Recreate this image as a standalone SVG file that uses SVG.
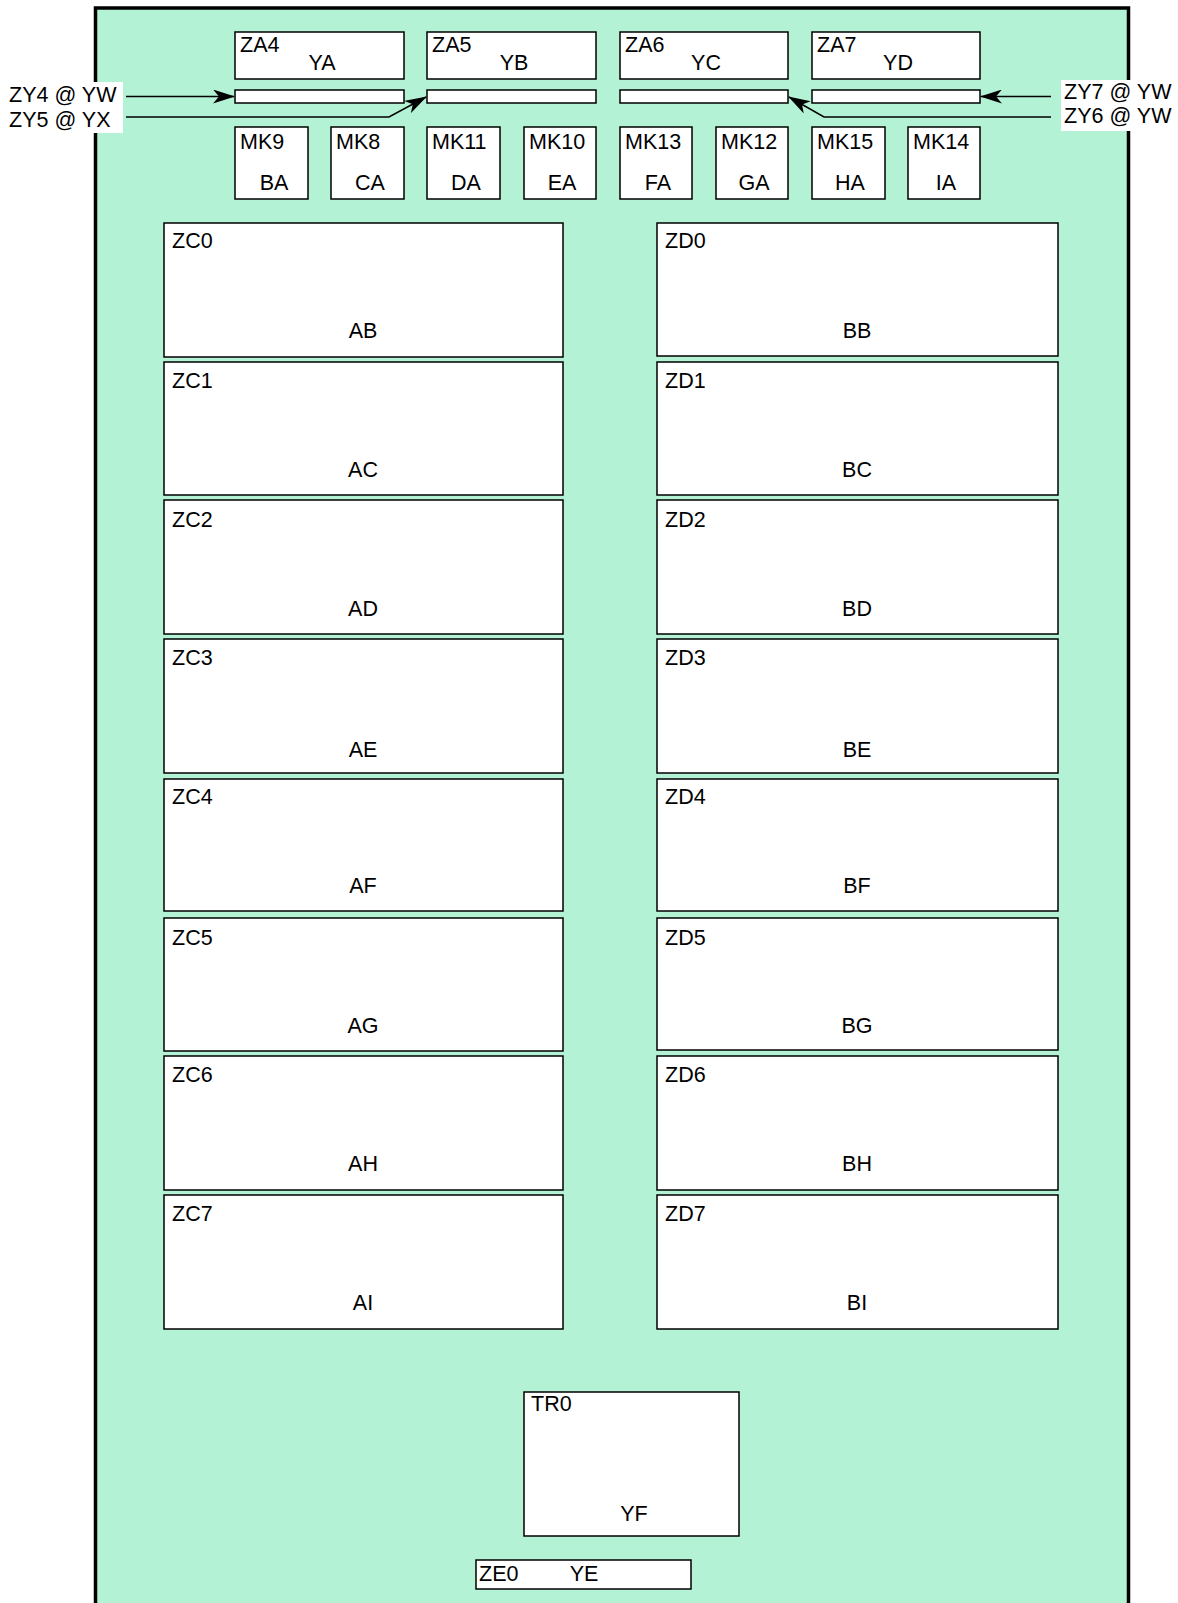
<svg xmlns="http://www.w3.org/2000/svg" width="1178" height="1603" viewBox="0 0 1178 1603">
<defs>
<style>
text{font-family:"Liberation Sans",Arial,sans-serif;font-size:21.5px;fill:#000}
.c{text-anchor:middle}
.b{fill:#fff;stroke:#000;stroke-width:1.5}
.ln{fill:none;stroke:#000;stroke-width:1.5}
</style>
<marker id="ah" markerWidth="22" markerHeight="14" refX="21" refY="7" orient="auto" markerUnits="userSpaceOnUse">
<path d="M0,0 L22,7 L0,14 L6,7 Z" fill="#000"/>
</marker>
</defs>
<rect x="0" y="0" width="1178" height="1603" fill="#fff"/>
<rect id="frame" x="95.5" y="8" width="1033" height="1610" fill="#b3f2d4" stroke="#000" stroke-width="3.5"/>
<g id="ZA4"><rect class="b" x="235" y="32" width="169" height="47"/><text x="240" y="52">ZA4</text><text class="c" x="322" y="70">YA</text></g>
<g id="ZA5"><rect class="b" x="427" y="32" width="169" height="47"/><text x="432" y="52">ZA5</text><text class="c" x="514" y="70">YB</text></g>
<g id="ZA6"><rect class="b" x="620" y="32" width="168" height="47"/><text x="625" y="52">ZA6</text><text class="c" x="706" y="70">YC</text></g>
<g id="ZA7"><rect class="b" x="812" y="32" width="168" height="47"/><text x="817" y="52">ZA7</text><text class="c" x="898" y="70">YD</text></g>
<g id="bar4"><rect class="b" x="235" y="90" width="169" height="13"/></g>
<g id="bar5"><rect class="b" x="427" y="90" width="169" height="13"/></g>
<g id="bar6"><rect class="b" x="620" y="90" width="168" height="13"/></g>
<g id="bar7"><rect class="b" x="812" y="90" width="168" height="13"/></g>
<g id="MK9"><rect class="b" x="235" y="127" width="73" height="72"/><text x="240" y="149">MK9</text><text class="c" x="274" y="190">BA</text></g>
<g id="MK8"><rect class="b" x="331" y="127" width="73" height="72"/><text x="336" y="149">MK8</text><text class="c" x="370" y="190">CA</text></g>
<g id="MK11"><rect class="b" x="427" y="127" width="73" height="72"/><text x="432" y="149">MK11</text><text class="c" x="466" y="190">DA</text></g>
<g id="MK10"><rect class="b" x="524" y="127" width="72" height="72"/><text x="529" y="149">MK10</text><text class="c" x="562" y="190">EA</text></g>
<g id="MK13"><rect class="b" x="620" y="127" width="72" height="72"/><text x="625" y="149">MK13</text><text class="c" x="658" y="190">FA</text></g>
<g id="MK12"><rect class="b" x="716" y="127" width="72" height="72"/><text x="721" y="149">MK12</text><text class="c" x="754" y="190">GA</text></g>
<g id="MK15"><rect class="b" x="812" y="127" width="73" height="72"/><text x="817" y="149">MK15</text><text class="c" x="850" y="190">HA</text></g>
<g id="MK14"><rect class="b" x="908" y="127" width="72" height="72"/><text x="913" y="149">MK14</text><text class="c" x="946" y="190">IA</text></g>
<g id="ZC0"><rect class="b" x="164" y="223" width="399" height="134"/><text x="172" y="248">ZC0</text><text class="c" x="363" y="338">AB</text></g>
<g id="ZC1"><rect class="b" x="164" y="362" width="399" height="133"/><text x="172" y="388">ZC1</text><text class="c" x="363" y="477">AC</text></g>
<g id="ZC2"><rect class="b" x="164" y="500" width="399" height="134"/><text x="172" y="527">ZC2</text><text class="c" x="363" y="616">AD</text></g>
<g id="ZC3"><rect class="b" x="164" y="639" width="399" height="134"/><text x="172" y="665">ZC3</text><text class="c" x="363" y="757">AE</text></g>
<g id="ZC4"><rect class="b" x="164" y="779" width="399" height="132"/><text x="172" y="804">ZC4</text><text class="c" x="363" y="893">AF</text></g>
<g id="ZC5"><rect class="b" x="164" y="918" width="399" height="133"/><text x="172" y="945">ZC5</text><text class="c" x="363" y="1033">AG</text></g>
<g id="ZC6"><rect class="b" x="164" y="1056" width="399" height="134"/><text x="172" y="1082">ZC6</text><text class="c" x="363" y="1171">AH</text></g>
<g id="ZC7"><rect class="b" x="164" y="1195" width="399" height="134"/><text x="172" y="1221">ZC7</text><text class="c" x="363" y="1310">AI</text></g>
<g id="ZD0"><rect class="b" x="657" y="223" width="401" height="133"/><text x="665" y="248">ZD0</text><text class="c" x="857" y="338">BB</text></g>
<g id="ZD1"><rect class="b" x="657" y="362" width="401" height="133"/><text x="665" y="388">ZD1</text><text class="c" x="857" y="477">BC</text></g>
<g id="ZD2"><rect class="b" x="657" y="500" width="401" height="134"/><text x="665" y="527">ZD2</text><text class="c" x="857" y="616">BD</text></g>
<g id="ZD3"><rect class="b" x="657" y="639" width="401" height="134"/><text x="665" y="665">ZD3</text><text class="c" x="857" y="757">BE</text></g>
<g id="ZD4"><rect class="b" x="657" y="779" width="401" height="132"/><text x="665" y="804">ZD4</text><text class="c" x="857" y="893">BF</text></g>
<g id="ZD5"><rect class="b" x="657" y="918" width="401" height="132"/><text x="665" y="945">ZD5</text><text class="c" x="857" y="1033">BG</text></g>
<g id="ZD6"><rect class="b" x="657" y="1056" width="401" height="134"/><text x="665" y="1082">ZD6</text><text class="c" x="857" y="1171">BH</text></g>
<g id="ZD7"><rect class="b" x="657" y="1195" width="401" height="134"/><text x="665" y="1221">ZD7</text><text class="c" x="857" y="1310">BI</text></g>
<g id="TR0"><rect class="b" x="524" y="1392" width="215" height="144"/><text x="531" y="1411">TR0</text><text class="c" x="634" y="1521">YF</text></g>
<g id="ZE0"><rect class="b" x="476" y="1560" width="215" height="29"/><text x="479" y="1581">ZE0</text><text class="c" x="584" y="1581">YE</text></g>
<g id="labels">
<rect x="0" y="82" width="123" height="51" fill="#fff"/>
<text x="9" y="102">ZY4 @ YW</text>
<text x="9" y="127">ZY5 @ YX</text>
<rect x="1061" y="80" width="117" height="51" fill="#fff"/>
<text x="1064" y="99">ZY7 @ YW</text>
<text x="1064" y="123">ZY6 @ YW</text>
</g>
<g id="connectors">
<path class="ln" d="M126,96.5 L234,96.5" marker-end="url(#ah)"/>
<path class="ln" d="M126,117 L389,117 L426,97" marker-end="url(#ah)"/>
<path class="ln" d="M1051,96.5 L981,96.5" marker-end="url(#ah)"/>
<path class="ln" d="M1051,117 L824,117 L789,97" marker-end="url(#ah)"/>
</g>
</svg>
